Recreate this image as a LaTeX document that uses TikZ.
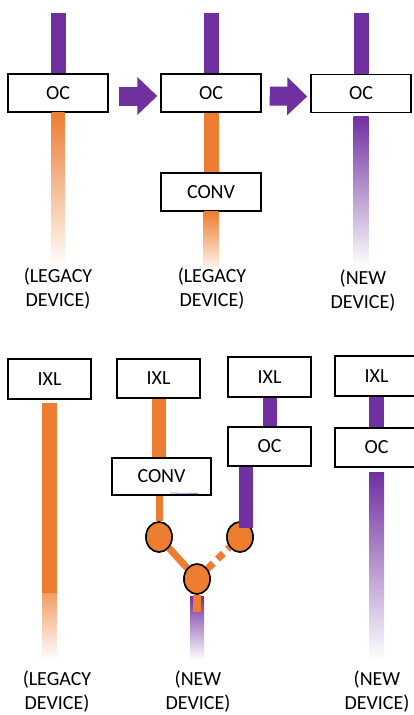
\documentclass[tikz,border=0pt]{standalone}
\usepackage{fontspec}
\setmainfont{Carlito}
\usepackage{xcolor}
\usetikzlibrary{calc,shapes.geometric,arrows.meta}
\definecolor{ocpurple}{HTML}{7030A0}
\definecolor{legorange}{HTML}{ED7D31}

\begin{document}
\begin{tikzpicture}[x=1pt,y=-1pt,
  unitbox/.style={draw=black,line width=1.5pt,fill=white,inner sep=0pt,minimum height=38pt,font=\fontsize{20}{24}\selectfont},
  devlabel/.style={align=center,inner sep=0pt,font=\fontsize{20}{24}\selectfont},
  joint/.style={ellipse,draw=black,line width=1.5pt,fill=legorange,minimum width=26pt,minimum height=30pt,inner sep=0pt},
  purplebar/.style={ocpurple,line width=15pt},
  orangebar/.style={legorange,line width=14pt},
  bigarrow/.style={ocpurple,line width=19pt,-{Triangle[length=20pt,width=37pt]}}]
\useasboundingbox (0,0) rectangle (414,715);
\fill[white] (0,0) rectangle (414,715);
% top row
\node[unitbox,minimum width=100pt] (oca) at (58,93) {OC};
\node[unitbox,minimum width=100pt] (ocb) at (211,93) {OC};
\node[unitbox,minimum width=100pt] (occ) at (361,93.5) {OC};
\node[unitbox,minimum width=100pt] (convb) at (211,192) {CONV};
\coordinate (ina) at (oca.north |- 0,13);
\coordinate (inb) at (ocb.north |- 0,13);
\coordinate (inc) at (occ.north |- 0,13);
\coordinate (enda) at (oca.south |- 0,267);
\coordinate (endb) at (ocb.south |- 0,267);
\coordinate (endc) at (occ.south |- 0,267);
\draw[purplebar] (ina) -- (oca.north);
\draw[purplebar] (inb) -- (ocb.north);
\draw[purplebar] (inc) -- (occ.north);
\shade[top color=legorange,middle color=legorange!55,bottom color=white]
  ($(oca.south)+(-6.5,0)$) rectangle ($(enda)+(6.5,0)$);
\draw[orangebar,line width=15pt] (ocb.south) -- (convb.north);
\shade[top color=legorange,middle color=legorange,bottom color=white!90!legorange]
  ($(convb.south)+(-7.5,0)$) rectangle ($(endb)+(7.5,0)$);
\shade[top color=ocpurple,middle color=ocpurple!50,bottom color=white]
  ($(occ.south)+(-7.5,3)$) rectangle ($(endc)+(7.5,0)$);
\draw[bigarrow] ($(oca.east)+(10,3)$) -- ($(ocb.west)+(-3,3)$);
\draw[bigarrow] ($(ocb.east)+(8,3)$) -- ($(occ.west)+(-3,3)$);
\node[devlabel] (deva) at (58,289) {(LEGACY\\DEVICE)};
\node[devlabel] (devb) at (212,289) {(LEGACY\\DEVICE)};
\node[devlabel] (devc) at (363,291) {(NEW\\DEVICE)};
% bottom row
\node[unitbox,minimum width=83pt,minimum height=40pt] (ixla) at (49.5,379) {IXL};
\node[unitbox,minimum width=83pt,minimum height=39pt] (ixlb) at (158.5,378.5) {IXL};
\node[unitbox,minimum width=99pt,minimum height=37pt] (convd) at (161.5,476.5) {CONV};
\node[unitbox,minimum width=83pt,minimum height=40pt] (ixlc) at (269.5,377) {IXL};
\node[unitbox,minimum width=83pt,minimum height=39pt] (occd) at (269.5,446.5) {OC};
\node[unitbox,minimum width=83pt,minimum height=40pt] (ixle) at (376.5,376) {IXL};
\node[unitbox,minimum width=83pt,minimum height=39pt] (oce) at (376.5,447.5) {OC};
\draw[ocpurple!60,line width=0.8pt] (170,493) -- (198,493.5);
\coordinate (stopa) at (ixla.south |- 0,593);
\coordinate (endd) at (ixla.south |- 0,660);
\draw[orangebar,line width=15pt] ($(ixla.south)+(0,3)$) -- (stopa);
\shade[top color=legorange!75,bottom color=white]
  ($(stopa)+(-7.5,0)$) rectangle ($(endd)+(7.5,0)$);
\draw[orangebar] (ixlb.south) -- (ixlb.south |- convd.north);
\node[joint] (jl) at (159,537) {};
\node[joint] (jr) at (240,537) {};
\node[joint] (jm) at (197,579) {};
\draw[legorange,line width=7pt] (jl |- convd.south) -- (jl);
\draw[legorange,line width=7pt] (jl) -- (jm);
\draw[legorange,line width=7pt,dash pattern=on 8pt off 6pt] (jm) -- (jr);
\node[joint] at (jl) {};
\node[joint] at (jr) {};
\node[joint] at (jm) {};
\coordinate (ende) at (jm.south |- 0,660);
\coordinate (stube) at (jm.south |- 0,612);
\shade[top color=ocpurple,bottom color=white]
  ($(jm.south)+(-7,2)$) rectangle ($(ende)+(7,0)$);
\draw[legorange,line width=8pt] (jm.south) -- (stube);
\coordinate (taild) at (246,528);
\draw[purplebar,line width=14pt] (ixlc.south) -- (occd.north);
\draw[purplebar,line width=14pt] (taild |- occd.south) -- (taild);
\draw[purplebar] (ixle.south) -- (oce.north);
\coordinate (endf) at (oce.south |- 0,660);
\shade[top color=ocpurple,middle color=ocpurple!45,bottom color=white]
  ($(oce.south)+(-7.5,5)$) rectangle ($(endf)+(7.5,0)$);
\node[devlabel] (devd) at (57,692) {(LEGACY\\DEVICE)};
\node[devlabel] (deve) at (198,692) {(NEW\\DEVICE)};
\node[devlabel] (devf) at (377,692) {(NEW\\DEVICE)};
\end{tikzpicture}
\end{document}
